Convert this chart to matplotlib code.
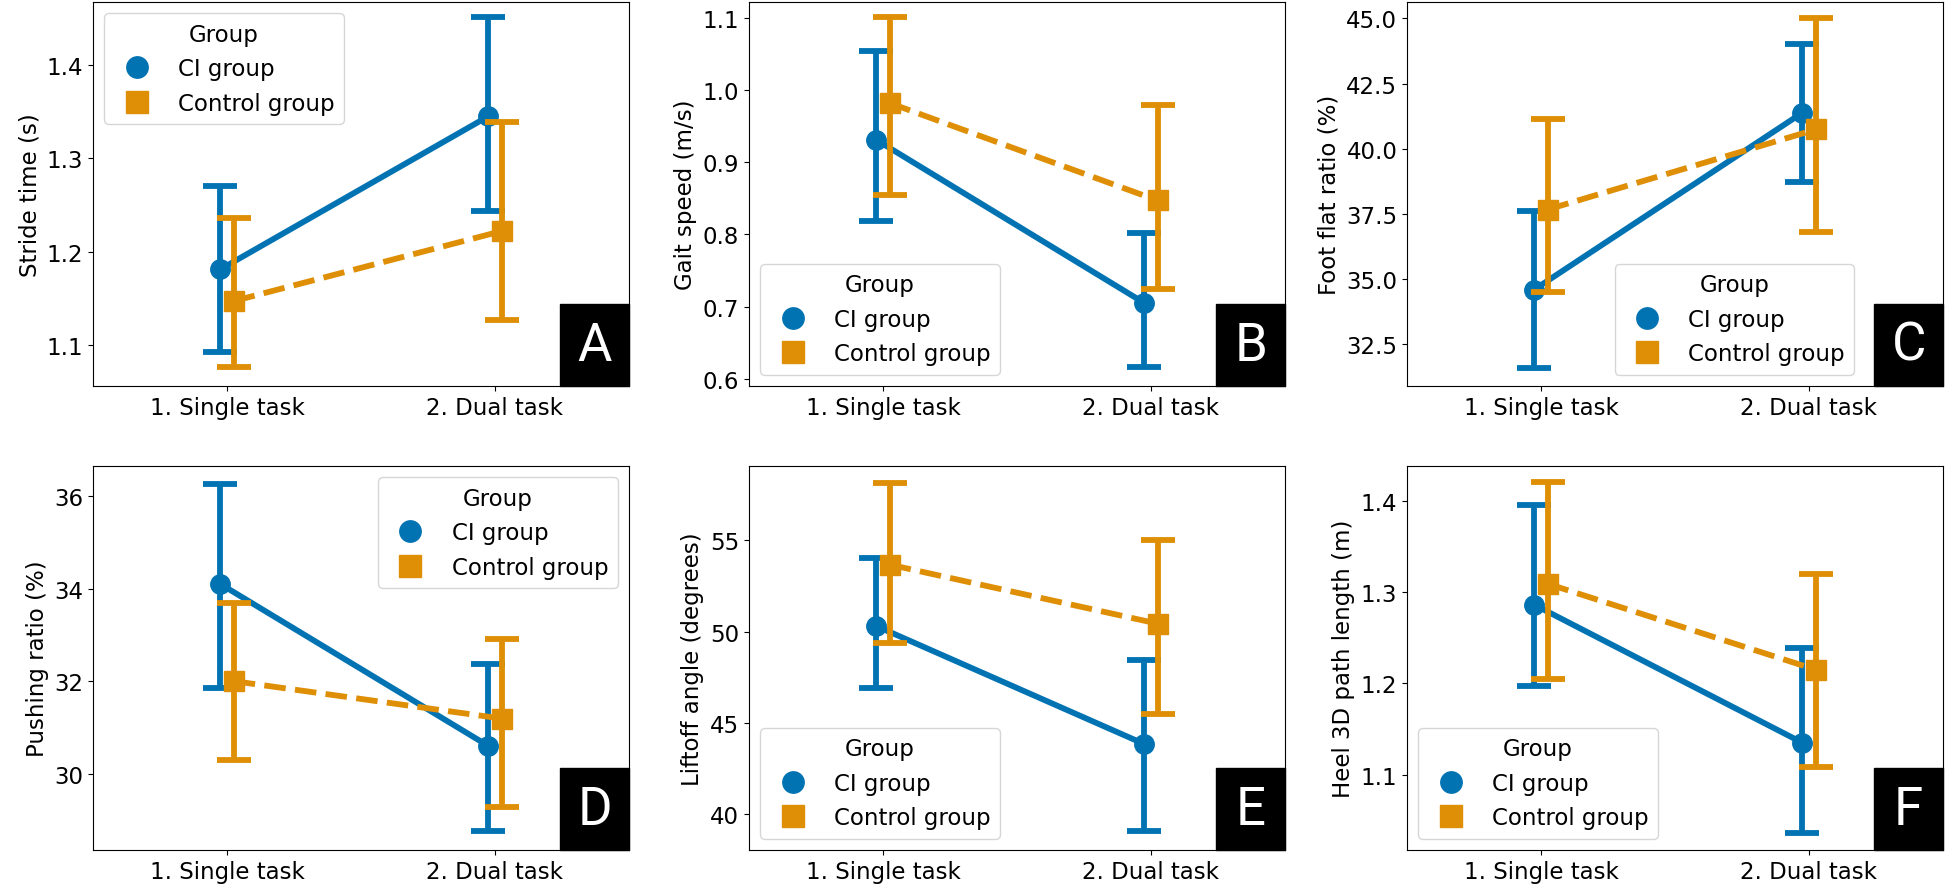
import matplotlib
matplotlib.use("Agg")
import matplotlib.pyplot as plt
from matplotlib.patches import Rectangle

plt.rcParams["font.family"] = ["DejaVu Sans"]
plt.rcParams["font.size"] = 16.5

BLUE = "#0173b2"
ORANGE = "#de8f05"

tasks = ["1. Single task", "2. Dual task"]
groups = ["CI group", "Control group"]

# mean, ci low, ci high  (single, dual)
stride_ci = [1.181, 1.345]
stride_ci_lo = [1.092, 1.244]
stride_ci_hi = [1.270, 1.451]
stride_ctl = [1.147, 1.222]
stride_ctl_lo = [1.076, 1.127]
stride_ctl_hi = [1.236, 1.339]

speed_ci = [0.931, 0.705]
speed_ci_lo = [0.818, 0.616]
speed_ci_hi = [1.054, 0.802]
speed_ctl = [0.982, 0.847]
speed_ctl_lo = [0.855, 0.724]
speed_ctl_hi = [1.101, 0.979]

flat_ci = [34.6, 41.38]
flat_ci_lo = [31.6, 38.74]
flat_ci_hi = [37.6, 44.0]
flat_ctl = [37.67, 40.74]
flat_ctl_lo = [34.5, 36.82]
flat_ctl_hi = [41.16, 45.0]

push_ci = [34.1, 30.6]
push_ci_lo = [31.86, 28.76]
push_ci_hi = [36.27, 32.38]
push_ctl = [32.0, 31.19]
push_ctl_lo = [30.29, 29.28]
push_ctl_hi = [33.68, 32.92]

lift_ci = [50.31, 43.85]
lift_ci_lo = [46.91, 39.09]
lift_ci_hi = [54.04, 48.44]
lift_ctl = [53.67, 50.44]
lift_ctl_lo = [49.36, 45.49]
lift_ctl_hi = [58.16, 55.04]

heel_ci = [1.286, 1.135]
heel_ci_lo = [1.197, 1.036]
heel_ci_hi = [1.395, 1.239]
heel_ctl = [1.309, 1.215]
heel_ctl_lo = [1.205, 1.108]
heel_ctl_hi = [1.420, 1.320]

panels = [
    ("A", "Stride time (s)", (stride_ci, stride_ci_lo, stride_ci_hi),
     (stride_ctl, stride_ctl_lo, stride_ctl_hi), [1.1, 1.2, 1.3, 1.4], "{:.1f}",
     (1.056, 1.4675), "upper left"),
    ("B", "Gait speed (m/s)", (speed_ci, speed_ci_lo, speed_ci_hi),
     (speed_ctl, speed_ctl_lo, speed_ctl_hi), [0.6, 0.7, 0.8, 0.9, 1.0, 1.1], "{:.1f}",
     (0.590, 1.122), "lower left"),
    ("C", "Foot flat ratio (%)", (flat_ci, flat_ci_lo, flat_ci_hi),
     (flat_ctl, flat_ctl_lo, flat_ctl_hi), [32.5, 35.0, 37.5, 40.0, 42.5, 45.0], "{:.1f}",
     (30.9, 45.63), "lower right"),
    ("D", "Pushing ratio (%)", (push_ci, push_ci_lo, push_ci_hi),
     (push_ctl, push_ctl_lo, push_ctl_hi), [30, 32, 34, 36], "{:.0f}",
     (28.35, 36.65), "upper right"),
    ("E", "Liftoff angle (degrees)", (lift_ci, lift_ci_lo, lift_ci_hi),
     (lift_ctl, lift_ctl_lo, lift_ctl_hi), [40, 45, 50, 55], "{:.0f}",
     (38.05, 59.07), "lower left"),
    ("F", "Heel 3D path length (m)", (heel_ci, heel_ci_lo, heel_ci_hi),
     (heel_ctl, heel_ctl_lo, heel_ctl_hi), [1.1, 1.2, 1.3, 1.4], "{:.1f}",
     (1.0175, 1.438), "lower left"),
]

W, H = 1946, 895
fig = plt.figure(figsize=(W / 100, H / 100), dpi=100)

lefts = [93, 749, 1407]
tops = [3, 467]
aw, ah = 536, 384


def draw(ax, letter, ylabel, ci, ctl, yticks, fmt, ylim, legloc):
    x = range(len(tasks))
    for (m, lo, hi), name, color, marker, ls, off in [
        (ci, groups[0], BLUE, "o", "-", -0.025),
        (ctl, groups[1], ORANGE, "s", "--", 0.025),
    ]:
        xs = [i + off for i in x]
        yerr = [[a - b for a, b in zip(m, lo)], [b - a for a, b in zip(m, hi)]]
        ax.errorbar(xs, m, yerr=yerr, fmt="none", ecolor=color, elinewidth=4.2,
                    capsize=12, capthick=4.2)
        ax.plot(xs, m, color=color, linestyle=ls, linewidth=4.2)
        ax.plot(xs, m, linestyle="none", marker=marker, markersize=14,
                color=color, label=name)
    ax.set_xlim(-0.5, 1.5)
    ax.set_xticks(list(x))
    ax.set_xticklabels(tasks)
    ax.set_ylim(*ylim)
    ax.set_yticks(yticks)
    ax.set_yticklabels([fmt.format(v) for v in yticks])
    ax.set_ylabel(ylabel)
    if legloc == "lower right":
        ax.legend(title="Group", loc="lower right", bbox_to_anchor=(0.855, 0.0),
                  markerscale=1.1)
    else:
        ax.legend(title="Group", loc=legloc, markerscale=1.1)
    ax.add_patch(Rectangle((0.872, 0.0), 0.128, 0.213, transform=ax.transAxes,
                           facecolor="black", edgecolor="black", zorder=10,
                           clip_on=False))
    ax.text(0.936, 0.1065, letter, transform=ax.transAxes, color="white",
            fontsize=38, ha="center", va="center", zorder=11,
            family=["Roboto", "DejaVu Sans"])


for k, p in enumerate(panels):
    r, c = divmod(k, 3)
    left = lefts[c]
    top = tops[r]
    ax = fig.add_axes([left / W, 1 - (top + ah) / H, aw / W, ah / H])
    draw(ax, *p)

fig.savefig("out.png", dpi=100)
